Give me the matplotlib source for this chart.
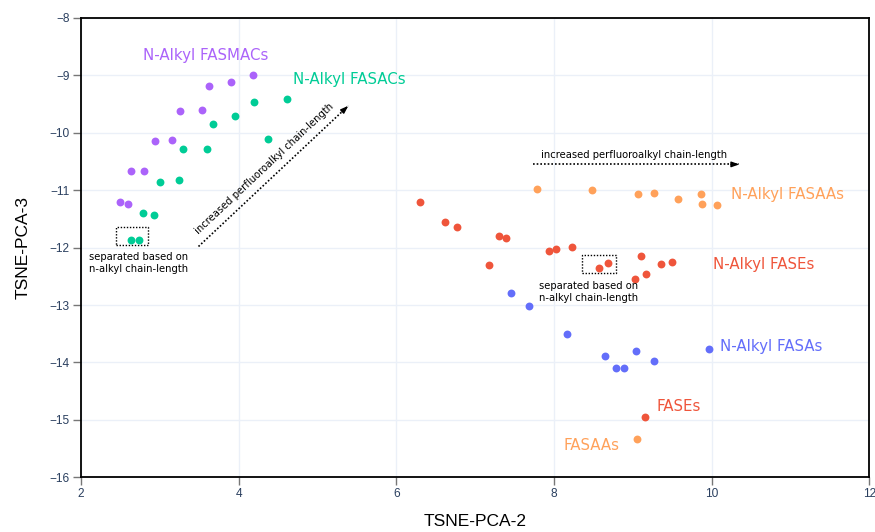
import matplotlib
matplotlib.use("Agg")
import matplotlib.pyplot as plt

# --- data ---
fasmac_x = [4.18, 3.90, 3.62, 3.54, 3.26, 3.16, 2.94, 2.80, 2.63, 2.59, 2.49]
fasmac_y = [-9.00, -9.12, -9.19, -9.60, -9.62, -10.12, -10.14, -10.67, -10.67, -11.24, -11.20]

fasac_x = [4.61, 4.20, 3.95, 3.67, 4.37, 3.60, 3.29, 3.24, 3.00, 2.93, 2.78, 2.73, 2.64]
fasac_y = [-9.41, -9.46, -9.71, -9.84, -10.11, -10.28, -10.28, -10.83, -10.85, -11.43, -11.40, -11.86, -11.86]

fasaa_x = [7.79, 8.48, 9.07, 9.27, 9.57, 9.87, 9.88, 10.07]
fasaa_y = [-10.97, -10.99, -11.06, -11.05, -11.16, -11.06, -11.24, -11.25]

fase_x = [6.30, 6.62, 6.77, 7.30, 7.39, 7.93, 8.03, 8.23, 7.17, 8.57, 8.69, 9.10, 9.36, 9.49, 9.16, 9.03]
fase_y = [-11.21, -11.55, -11.64, -11.79, -11.83, -12.05, -12.03, -11.99, -12.30, -12.35, -12.27,
          -12.14, -12.28, -12.25, -12.46, -12.54]

fasa_x = [7.46, 7.68, 8.17, 8.64, 9.04, 8.79, 8.89, 9.27, 9.97]
fasa_y = [-12.79, -13.02, -13.50, -13.88, -13.80, -14.09, -14.10, -13.98, -13.76]

fases_x = [9.15]
fases_y = [-14.95]
fasaas_x = [9.05]
fasaas_y = [-15.33]

purple = "#AB63FA"
green = "#00CC96"
red = "#EF553B"
blue = "#636EFA"
orange = "#FFA15A"

fig = plt.figure(figsize=(8.75, 5.32), dpi=100)
ax = fig.add_axes([0.0926, 0.1028, 0.901, 0.8634])

ms = 32
ax.scatter(fasmac_x, fasmac_y, s=ms, color=purple, zorder=3, linewidths=0)
ax.scatter(fasac_x, fasac_y, s=ms, color=green, zorder=3, linewidths=0)
ax.scatter(fasaa_x, fasaa_y, s=ms, color=orange, zorder=3, linewidths=0)
ax.scatter(fase_x, fase_y, s=ms, color=red, zorder=3, linewidths=0)
ax.scatter(fasa_x, fasa_y, s=ms, color=blue, zorder=3, linewidths=0)
ax.scatter(fases_x, fases_y, s=ms, color=red, zorder=3, linewidths=0)
ax.scatter(fasaas_x, fasaas_y, s=ms, color=orange, zorder=3, linewidths=0)

ax.set_xlim(2, 12)
ax.set_ylim(-16, -8)
ax.set_xticks([2, 4, 6, 8, 10, 12])
ax.set_yticks(range(-16, -7))
ax.grid(True, color="#EBF0F8", linewidth=1)
ax.set_axisbelow(True)
for s in ax.spines.values():
    s.set_color("black")
    s.set_linewidth(1.3)
ax.tick_params(direction="out", length=6, width=1, color="#777777", pad=2,
               labelcolor="#2A3F5F", labelsize=8.6)
for lbl in ax.get_xticklabels() + ax.get_yticklabels():
    lbl.set_family("Liberation Sans")

ax.set_xlabel("TSNE-PCA-2", fontsize=12.5, family="Liberation Sans", labelpad=10)
ax.set_ylabel("TSNE-PCA-3", fontsize=12.5, family="Liberation Sans", labelpad=14)

# group labels
lab_fs = 10.8
ax.text(2.78, -8.66, "N-Alkyl FASMACs", color=purple, fontsize=lab_fs, va="center")
ax.text(4.69, -9.07, "N-Alkyl FASACs", color=green, fontsize=lab_fs, va="center")
ax.text(10.24, -11.08, "N-Alkyl FASAAs", color=orange, fontsize=lab_fs, va="center")
ax.text(10.02, -12.29, "N-Alkyl FASEs", color=red, fontsize=lab_fs, va="center")
ax.text(10.11, -13.73, "N-Alkyl FASAs", color=blue, fontsize=lab_fs, va="center")
ax.text(9.30, -14.76, "FASEs", color=red, fontsize=lab_fs, va="center")
ax.text(8.12, -15.44, "FASAAs", color=orange, fontsize=lab_fs, va="center")

# dotted boxes
note_fs = 7.2
dot = (0, (1, 1.2))
for (x0, x1, y0, y1) in [(2.44, 2.85, -11.96, -11.64), (8.36, 8.78, -12.44, -12.12)]:
    ax.plot([x0, x1, x1, x0, x0], [y0, y0, y1, y1, y0], color="black",
            linestyle=dot, linewidth=1)

ax.text(2.73, -12.27, "separated based on\nn-alkyl chain-length", fontsize=note_fs,
        ha="center", va="center", linespacing=1.3)
ax.text(8.44, -12.77, "separated based on\nn-alkyl chain-length", fontsize=note_fs,
        ha="center", va="center", linespacing=1.3)

# arrows
for (xs, ys, xe, ye) in [(3.49, -11.98, 5.39, -9.53), (7.73, -10.55, 10.35, -10.55)]:
    ax.plot([xs, xe], [ys, ye], color="black", linestyle=dot, linewidth=1.2)
    ax.annotate("", xy=(xe, ye), xytext=(xs + (xe - xs) * 0.96, ys + (ye - ys) * 0.96),
                arrowprops=dict(arrowstyle="-|>,head_length=0.45,head_width=0.16",
                                color="black", lw=1, shrinkA=0, shrinkB=0))

ax.text(4.32, -10.63, "increased perfluoroalkyl chain-length", fontsize=note_fs,
        rotation=43.2, rotation_mode="anchor", ha="center", va="center")
ax.text(9.01, -10.38, "increased perfluoroalkyl chain-length", fontsize=note_fs,
        ha="center", va="center")

fig.savefig("out.png", dpi=100)
